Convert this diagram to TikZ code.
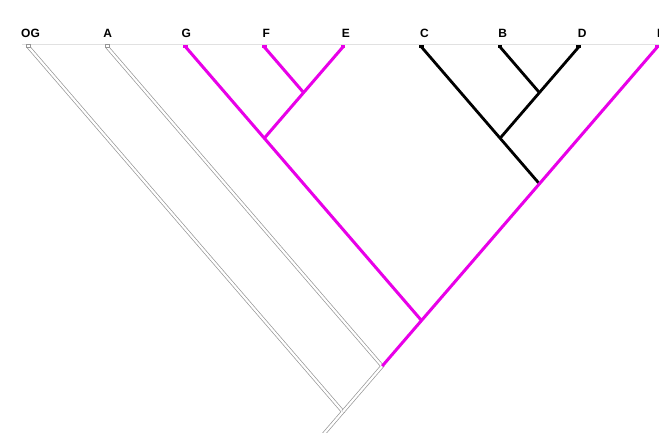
\documentclass[tikz,border=0pt]{standalone}
\usepackage{fontspec}
\setmainfont{Liberation Sans}
\definecolor{mag}{RGB}{232,0,232}
\definecolor{brgray}{RGB}{150,150,150}
\definecolor{rulegray}{RGB}{225,225,225}
\begin{document}
\begin{tikzpicture}[x=1pt,y=-1pt,
  lab/.style={font=\bfseries\fontsize{12}{12}\selectfont, inner sep=0pt, anchor=base},
  magbr/.style={draw=mag, line width=3pt},
  blkbr/.style={draw=black, line width=2.8pt},
  graybr/.style={draw=brgray, double=white, double distance=2.2pt, line width=0.7pt},
  tipm/.style={rectangle, inner sep=0pt, minimum width=4.5pt, minimum height=3pt},
  magtip/.style={tipm, fill=mag},
  blktip/.style={tipm, fill=black},
  graytip/.style={tipm, draw=brgray, fill=white, line width=0.6pt, minimum width=4pt, minimum height=3.5pt}
]
\useasboundingbox (0,0) rectangle (659,432);
\fill[white] (0,0) rectangle (659,432);
% header rule
\coordinate (r0) at (22,44.5);
\coordinate (r1) at (660,44.5);
\draw[rulegray, line width=0.8pt] (r0) -- (r1);
% labels
\node[lab] (lOG) at (30.5,37.5) {OG};
\node[lab] (lA) at (107.6,37.5) {A};
\node[lab] (lG) at (186.2,37.5) {G};
\node[lab] (lF) at (266.3,37.5) {F};
\node[lab] (lE) at (345.9,37.5) {E};
\node[lab] (lC) at (424.5,37.5) {C};
\node[lab] (lB) at (502.6,37.5) {B};
\node[lab] (lD) at (582.2,37.5) {D};
\node[lab] (lH) at (661.5,37.5) {H};
% tips
\coordinate (t0) at (28.5,47);
\coordinate (t1) at (107.1,47);
\coordinate (t2) at (185.7,47);
\coordinate (t3) at (264.3,47);
\coordinate (t4) at (342.9,47);
\coordinate (t5) at (421.5,47);
\coordinate (t6) at (500.1,47);
\coordinate (t7) at (578.7,47);
\coordinate (t8) at (657.3,47);
% internal nodes
\coordinate (nFE) at (303.6,92.6);
\coordinate (nGFE) at (264.3,138.2);
\coordinate (nBD) at (539.4,92.6);
\coordinate (nCBD) at (500.1,138.2);
\coordinate (nCH) at (539.4,183.8);
\coordinate (nGH) at (421.5,320.5);
\coordinate (nAH) at (382.2,366.1);
\coordinate (nOGH) at (342.9,411.7);
\coordinate (rootend) at (314.9,444.2);
% gray branches
\draw[graybr] (t0) -- (nOGH) -- (rootend);
\draw[graybr] (t1) -- (nAH) -- (nOGH);
% black branches
\draw[blkbr] (t6) -- (nBD);
\draw[blkbr] (t7) -- (nBD) -- (nCBD);
\draw[blkbr] (t5) -- (nCBD) -- (nCH);
% magenta branches
\draw[magbr] (t3) -- (nFE);
\draw[magbr] (t4) -- (nFE) -- (nGFE);
\draw[magbr] (t2) -- (nGFE) -- (nGH);
\draw[magbr] (t8) -- (nCH) -- (nGH) -- (nAH);
% tip markers
\node[graytip] (m0) at (28.5,46) {};
\node[graytip] (m1) at (107.1,46) {};
\node[magtip] (m2) at (185.7,46) {};
\node[magtip] (m3) at (264.3,46) {};
\node[magtip] (m4) at (342.9,46) {};
\node[blktip] (m5) at (421.5,46) {};
\node[blktip] (m6) at (500.1,46) {};
\node[blktip] (m7) at (578.7,46) {};
\node[magtip] (m8) at (657.3,46) {};
\end{tikzpicture}
\end{document}
